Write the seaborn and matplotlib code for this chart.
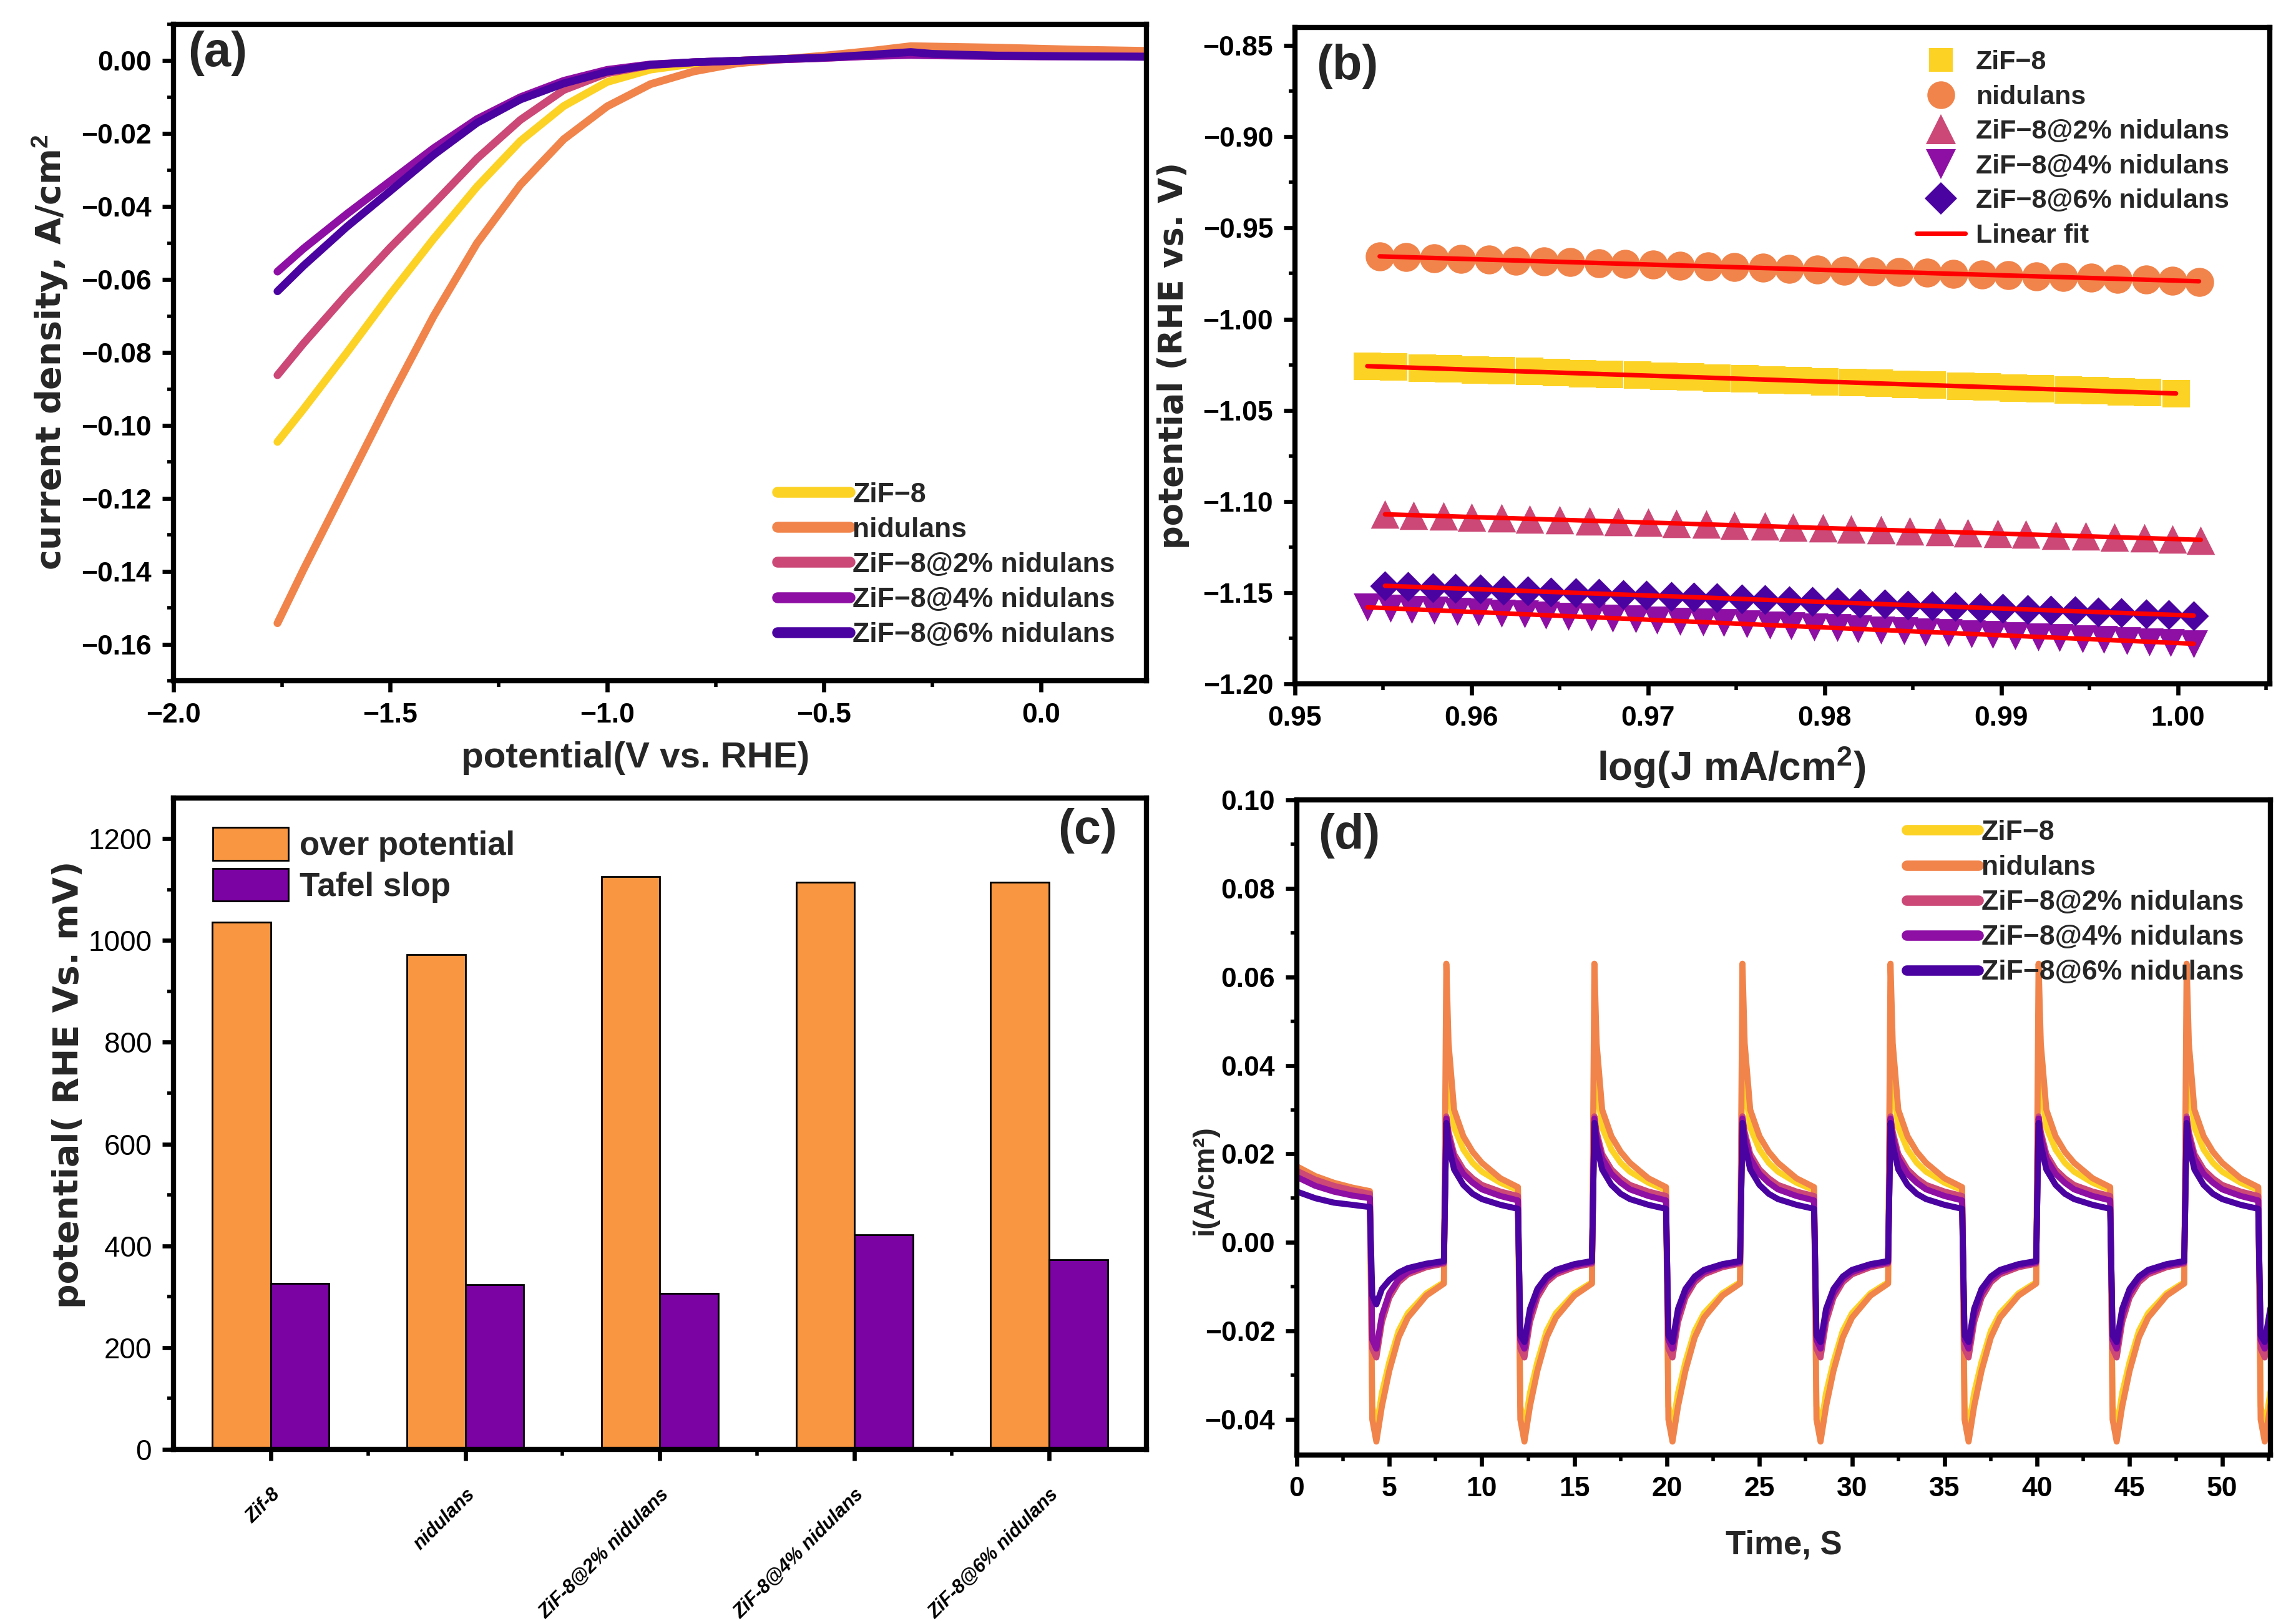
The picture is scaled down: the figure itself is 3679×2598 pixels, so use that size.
import numpy as np
import pandas as pd
import matplotlib
matplotlib.use("Agg")
import matplotlib.pyplot as plt
import seaborn as sns
from matplotlib.ticker import MultipleLocator, FixedLocator, FuncFormatter
from matplotlib.lines import Line2D
from matplotlib.patches import Patch

# ---------------- data ----------------
names = ["ZiF\u22128", "nidulans", "ZiF\u22128@2% nidulans",
         "ZiF\u22128@4% nidulans", "ZiF\u22128@6% nidulans"]
colors = ["#FCD225", "#F1844B", "#CB4877", "#8E0FA4", "#4A03A0"]

# (a) LSV
lsv_potential = [-1.76, -1.70, -1.60, -1.50, -1.40, -1.30, -1.20, -1.10, -1.00, -0.90, -0.80,
                 -0.70, -0.60, -0.50, -0.40, -0.30, -0.25, -0.10, 0.00, 0.10, 0.25]
lsv_zif8 = [-0.1045, -0.0955, -0.0800, -0.0640, -0.0488, -0.0345, -0.0220, -0.0124, -0.0058, -0.0024,
            -0.0008, 0.0000, 0.0005, 0.0010, 0.0017, 0.0022, 0.0021, 0.0019, 0.0018, 0.0017, 0.0016]
lsv_nid = [-0.1542, -0.1395, -0.1160, -0.0925, -0.0700, -0.0500, -0.0340, -0.0215, -0.0125, -0.0064,
           -0.0029, -0.0007, 0.0004, 0.0014, 0.0026, 0.0040, 0.0039, 0.0036, 0.0033, 0.0030, 0.0027]
lsv_2 = [-0.0862, -0.0775, -0.0640, -0.0512, -0.0392, -0.0268, -0.0162, -0.0080, -0.0034, -0.0012,
         -0.0004, 0.0000, 0.0004, 0.0008, 0.0014, 0.0018, 0.0017, 0.0015, 0.0014, 0.0013, 0.0012]
lsv_4 = [-0.0578, -0.0515, -0.0420, -0.0330, -0.0240, -0.0160, -0.0100, -0.0055, -0.0025, -0.0010,
         -0.0004, 0.0000, 0.0004, 0.0008, 0.0013, 0.0016, 0.0015, 0.0013, 0.0012, 0.0012, 0.0011]
lsv_6 = [-0.0632, -0.0562, -0.0455, -0.0357, -0.0258, -0.0170, -0.0106, -0.0062, -0.0030, -0.0011,
         -0.0004, 0.0000, 0.0005, 0.0009, 0.0016, 0.0024, 0.0019, 0.0014, 0.0013, 0.0012, 0.0011]

# (b) Tafel
taf_x_zif8 = [0.9541, 0.9556, 0.9572, 0.9587, 0.9602, 0.9617, 0.9633, 0.9648, 0.9663, 0.9678, 0.9694,
              0.9709, 0.9724, 0.9739, 0.9755, 0.9770, 0.9785, 0.9800, 0.9816, 0.9831, 0.9846, 0.9861,
              0.9877, 0.9892, 0.9907, 0.9922, 0.9938, 0.9953, 0.9968, 0.9983, 0.9999]
taf_y_zif8 = [-1.0258, -1.0262, -1.0268, -1.0272, -1.0278, -1.0283, -1.0287, -1.0293, -1.0298, -1.0302,
              -1.0307, -1.0313, -1.0318, -1.0322, -1.0327, -1.0333, -1.0338, -1.0342, -1.0347, -1.0352,
              -1.0357, -1.0362, -1.0367, -1.0372, -1.0377, -1.0382, -1.0387, -1.0392, -1.0397, -1.0402,
              -1.0410]
taf_x_nid = [0.9548, 0.9563, 0.9579, 0.9594, 0.9610, 0.9625, 0.9641, 0.9656, 0.9672, 0.9687, 0.9703,
             0.9718, 0.9734, 0.9749, 0.9765, 0.9780, 0.9796, 0.9811, 0.9827, 0.9842, 0.9858, 0.9873,
             0.9889, 0.9904, 0.9920, 0.9935, 0.9951, 0.9966, 0.9982, 0.9997, 1.0012]
taf_y_nid = [-0.9655, -0.9660, -0.9665, -0.9669, -0.9674, -0.9679, -0.9683, -0.9688, -0.9692, -0.9697,
             -0.9701, -0.9706, -0.9710, -0.9715, -0.9719, -0.9724, -0.9728, -0.9733, -0.9737, -0.9742,
             -0.9746, -0.9751, -0.9755, -0.9760, -0.9764, -0.9769, -0.9773, -0.9778, -0.9783, -0.9789,
             -0.9797]
taf_x_2 = [0.9551, 0.9567, 0.9584, 0.9600, 0.9617, 0.9633, 0.9650, 0.9667, 0.9683, 0.9700, 0.9716,
           0.9733, 0.9749, 0.9766, 0.9782, 0.9799, 0.9815, 0.9832, 0.9848, 0.9865, 0.9881, 0.9898,
           0.9914, 0.9931, 0.9948, 0.9964, 0.9981, 0.9997, 1.0013]
taf_y_2 = [-1.1070, -1.1075, -1.1080, -1.1085, -1.1090, -1.1095, -1.1100, -1.1105, -1.1110, -1.1115,
           -1.1120, -1.1125, -1.1130, -1.1135, -1.1140, -1.1145, -1.1150, -1.1155, -1.1160, -1.1165,
           -1.1170, -1.1175, -1.1180, -1.1185, -1.1190, -1.1195, -1.1200, -1.1205, -1.1212]
taf_x_4 = [0.9541, 0.9554, 0.9566, 0.9579, 0.9592, 0.9604, 0.9617, 0.9630, 0.9642, 0.9655, 0.9668,
           0.9680, 0.9693, 0.9705, 0.9718, 0.9731, 0.9743, 0.9756, 0.9769, 0.9781, 0.9794, 0.9807,
           0.9819, 0.9832, 0.9845, 0.9857, 0.9870, 0.9883, 0.9895, 0.9908, 0.9921, 0.9933, 0.9946,
           0.9958, 0.9971, 0.9984, 0.9996, 1.0009]
taf_y_4 = [-1.1580, -1.1585, -1.1591, -1.1596, -1.1602, -1.1607, -1.1612, -1.1618, -1.1623, -1.1629,
           -1.1634, -1.1639, -1.1645, -1.1650, -1.1656, -1.1661, -1.1666, -1.1672, -1.1677, -1.1683,
           -1.1688, -1.1693, -1.1699, -1.1704, -1.1710, -1.1715, -1.1720, -1.1726, -1.1731, -1.1737,
           -1.1742, -1.1747, -1.1753, -1.1758, -1.1764, -1.1769, -1.1774, -1.1780]
taf_x_6 = [0.9551, 0.9564, 0.9578, 0.9591, 0.9605, 0.9618, 0.9632, 0.9645, 0.9659, 0.9672, 0.9686,
           0.9699, 0.9713, 0.9726, 0.9739, 0.9753, 0.9766, 0.9780, 0.9793, 0.9807, 0.9820, 0.9834,
           0.9847, 0.9861, 0.9874, 0.9888, 0.9901, 0.9915, 0.9928, 0.9942, 0.9955, 0.9968, 0.9982,
           0.9995, 1.0009]
taf_y_6 = [-1.1462, -1.1467, -1.1472, -1.1476, -1.1481, -1.1486, -1.1491, -1.1496, -1.1500, -1.1505,
           -1.1510, -1.1515, -1.1520, -1.1524, -1.1529, -1.1534, -1.1539, -1.1544, -1.1548, -1.1553,
           -1.1558, -1.1563, -1.1568, -1.1572, -1.1577, -1.1582, -1.1587, -1.1592, -1.1596, -1.1601,
           -1.1606, -1.1611, -1.1616, -1.1620, -1.1626]

# (c) bars
bar_categories = ["Zif-8", "nidulans", "ZiF-8@2% nidulans", "ZiF-8@4% nidulans", "ZiF-8@6% nidulans"]
over_potential = [1036, 972, 1125, 1115, 1114]
tafel_slope = [326, 323, 307, 422, 372]

# (d) chronoamperometry: step times and per-series transient profiles
neg_step_times = [4, 12, 20, 28, 36, 44, 52]
pos_step_times = [8, 16, 24, 32, 40, 48]
first_offsets = [0.0, 1.0, 2.0, 3.0, 3.95]
pos_offsets = [0.08, 0.2, 0.5, 1.0, 1.5, 2.0, 3.0, 3.95]
neg_offsets = [0.08, 0.3, 0.6, 1.0, 1.5, 2.0, 3.0, 3.95]
ca_first = [[0.0165, 0.0145, 0.0131, 0.0121, 0.0113],
            [0.0172, 0.0150, 0.0135, 0.0124, 0.0116],
            [0.0162, 0.0142, 0.0128, 0.0118, 0.0110],
            [0.0148, 0.0128, 0.0115, 0.0106, 0.0100],
            [0.0115, 0.0100, 0.0090, 0.0085, 0.0080]]
ca_pos = [[0.046, 0.036, 0.026, 0.021, 0.018, 0.016, 0.0135, 0.0118],
          [0.063, 0.045, 0.030, 0.024, 0.0205, 0.018, 0.0145, 0.0125],
          [0.0285, 0.025, 0.020, 0.0165, 0.0145, 0.013, 0.0115, 0.0105],
          [0.028, 0.024, 0.019, 0.0155, 0.0135, 0.012, 0.0105, 0.0095],
          [0.027, 0.022, 0.0165, 0.013, 0.011, 0.0098, 0.0085, 0.0076]]
ca_neg = [[-0.037, -0.042, -0.034, -0.027, -0.020, -0.016, -0.0115, -0.0090],
          [-0.040, -0.045, -0.037, -0.029, -0.0215, -0.017, -0.0120, -0.0093],
          [-0.024, -0.026, -0.018, -0.0125, -0.009, -0.0072, -0.0056, -0.0048],
          [-0.022, -0.024, -0.0165, -0.0115, -0.0083, -0.0067, -0.0052, -0.0045],
          [-0.021, -0.0225, -0.015, -0.0105, -0.0077, -0.0062, -0.0049, -0.0042]]
ca_neg_first_6 = [-0.012, -0.014, -0.0105, -0.0085, -0.0068, -0.0058, -0.0048, -0.0042]

# ---------------- style ----------------
sns.set_theme(style="ticks")
FONT = ["Liberation Sans", "DejaVu Sans"]
WIDE = ["DejaVu Sans"]
plt.rcParams["font.family"] = FONT
plt.rcParams["font.weight"] = "bold"
plt.rcParams["axes.labelweight"] = "bold"
plt.rcParams["mathtext.fontset"] = "custom"
plt.rcParams["mathtext.rm"] = "Liberation Sans:bold"
plt.rcParams["mathtext.it"] = "Liberation Sans:bold"
plt.rcParams["mathtext.bf"] = "Liberation Sans:bold"
plt.rcParams["mathtext.default"] = "rm"


def minus_fmt(decimals):
    return FuncFormatter(lambda v, p: f"{v:.{decimals}f}".replace("-", "\u2212"))


def style_axis(ax, labelsize=16):
    ax.set_facecolor("white")
    for sp in ax.spines.values():
        sp.set_visible(True)
        sp.set_linewidth(3)
        sp.set_color("black")
    ax.tick_params(which="major", direction="out", length=6.5, width=2.4, labelsize=labelsize,
                   pad=6, colors="black", top=False, right=False)
    ax.tick_params(which="minor", direction="out", length=3.5, width=2.0,
                   colors="black", top=False, right=False)
    ax.grid(False)


def panel_label(ax, text, x, y, ha="left"):
    ax.text(x, y, text, transform=ax.transAxes, ha=ha, va="top",
            fontsize=28, fontweight="bold")


fig = plt.figure(figsize=(18.395, 12.99), dpi=200)
fig.patch.set_facecolor("white")
ax_a = fig.add_axes([0.0755, 0.5800, 0.4238, 0.4050])
ax_b = fig.add_axes([0.5640, 0.5781, 0.4245, 0.4050])
ax_c = fig.add_axes([0.0755, 0.1059, 0.4238, 0.4018])
ax_d = fig.add_axes([0.5648, 0.1025, 0.4240, 0.4040])

leg_font = dict(family=FONT, weight="bold", size=16)

# ---------------- (a) ----------------
lsv_series = [lsv_zif8, lsv_nid, lsv_2, lsv_4, lsv_6]
df_a = pd.DataFrame({
    "potential": np.concatenate([lsv_potential] * 5),
    "current": np.concatenate(lsv_series),
    "sample": np.repeat(names, len(lsv_potential)),
})
sns.lineplot(data=df_a, x="potential", y="current", hue="sample", hue_order=names,
             palette=dict(zip(names, colors)), estimator=None, sort=False,
             linewidth=4.5, ax=ax_a, legend=False)
ax_a.set_xlim(-2.0, 0.243)
ax_a.set_ylim(-0.17, 0.01)
ax_a.xaxis.set_major_locator(MultipleLocator(0.5))
ax_a.xaxis.set_minor_locator(MultipleLocator(0.25))
ax_a.yaxis.set_major_locator(MultipleLocator(0.02))
ax_a.yaxis.set_minor_locator(MultipleLocator(0.01))
ax_a.xaxis.set_major_formatter(minus_fmt(1))
ax_a.yaxis.set_major_formatter(minus_fmt(2))
style_axis(ax_a)
ax_a.set_xlabel("potential(V vs. RHE)", fontsize=21)
ax_a.xaxis.set_label_coords(0.475, -0.092)
ax_a.set_ylabel("current density, A/cm$^{2}$", fontsize=20, family=WIDE)
ax_a.yaxis.set_label_coords(-0.106, 0.5)
handles = [Line2D([], [], color=c, lw=6.3, solid_capstyle="round") for c in colors]
ax_a.legend(handles, names, loc="lower right", bbox_to_anchor=(0.985, 0.025), frameon=False,
            prop=leg_font, handlelength=2.6, handletextpad=0.1, labelspacing=0.34,
            borderaxespad=0.2)
panel_label(ax_a, "(a)", 0.015, 0.99)

# ---------------- (b) ----------------
taf = [(taf_x_zif8, taf_y_zif8, "s", 240),
       (taf_x_nid, taf_y_nid, "o", 280),
       (taf_x_2, taf_y_2, "^", 270),
       (taf_x_4, taf_y_4, "v", 260),
       (taf_x_6, taf_y_6, "D", 150)]
for (tx, ty, m, s), name, c in zip(taf, names, colors):
    sns.scatterplot(x=tx, y=ty, marker=m, s=s, color=c, linewidth=0, ax=ax_b,
                    label=name, zorder=2)
for i, (tx, ty, m, s) in enumerate(taf):
    sns.regplot(x=np.array(tx), y=np.array(ty), scatter=False, ci=None, color="#FF0000",
                line_kws=dict(lw=2.6, zorder=3), ax=ax_b,
                label="Linear fit" if i == 0 else None)
ax_b.set_xlim(0.95, 1.0052)
ax_b.set_ylim(-1.20, -0.84)
ax_b.xaxis.set_major_locator(MultipleLocator(0.01))
ax_b.xaxis.set_minor_locator(MultipleLocator(0.005))
ax_b.yaxis.set_major_locator(MultipleLocator(0.05))
ax_b.yaxis.set_minor_locator(MultipleLocator(0.025))
ax_b.xaxis.set_major_formatter(minus_fmt(2))
ax_b.yaxis.set_major_formatter(minus_fmt(2))
style_axis(ax_b)
ax_b.set_xlabel("log(J mA/cm$^{2}$)", fontsize=23)
ax_b.xaxis.set_label_coords(0.448, -0.092)
ax_b.set_ylabel("potential (RHE vs. V)", fontsize=19, family=WIDE)
ax_b.yaxis.set_label_coords(-0.108, 0.5)
hb = [Line2D([], [], ls="none", marker=m, markersize=ms, color=c, markeredgewidth=0)
      for (m, ms), c in zip([("s", 14), ("o", 16), ("^", 17), ("v", 17), ("D", 13)], colors)]
hb.append(Line2D([], [], color="#FF0000", lw=2.6))
ax_b.legend(hb, names + ["Linear fit"], loc="upper right", bbox_to_anchor=(0.975, 0.99),
            frameon=False, prop=dict(family=FONT, weight="bold", size=15.5),
            handlelength=1.8, handletextpad=0.4, labelspacing=0.36, borderaxespad=0.2)
panel_label(ax_b, "(b)", 0.022, 0.975)

# ---------------- (c) ----------------
df_c = pd.DataFrame({
    "category": bar_categories * 2,
    "value": over_potential + tafel_slope,
    "metric": ["over potential"] * 5 + ["Tafel slop"] * 5,
})
bar_colors = ["#F89641", "#7B02A3"]
sns.barplot(data=df_c, x="category", y="value", hue="metric",
            hue_order=["over potential", "Tafel slop"], palette=bar_colors, saturation=1,
            width=0.6, edgecolor="black", linewidth=1.0, ax=ax_c, legend=False)
ax_c.set_xlim(-0.5, 4.5)
ax_c.set_ylim(0, 1280)
ax_c.yaxis.set_major_locator(MultipleLocator(200))
ax_c.yaxis.set_minor_locator(MultipleLocator(100))
ax_c.xaxis.set_minor_locator(FixedLocator([0.5, 1.5, 2.5, 3.5]))
style_axis(ax_c)
ax_c.tick_params(axis="y", labelsize=16.5)
for t in ax_c.get_yticklabels():
    t.set_fontweight("normal")
ax_c.set_xticks(range(5))
ax_c.set_xticklabels(bar_categories, rotation=45, ha="right", rotation_mode="anchor",
                     fontsize=11, fontstyle="italic", fontweight="bold")
ax_c.tick_params(axis="x", pad=14)
ax_c.set_xlabel("")
ax_c.set_ylabel("potential( RHE Vs. mV)", fontsize=20, family=WIDE)
ax_c.yaxis.set_label_coords(-0.09, 0.56)
hc = [Patch(facecolor=c, edgecolor="black", lw=1.0) for c in bar_colors]
ax_c.legend(hc, ["over potential", "Tafel slop"], loc="upper left", bbox_to_anchor=(0.02, 0.985),
            frameon=False, prop=dict(family=FONT, weight="bold", size=19),
            handlelength=2.3, handleheight=1.15, handletextpad=0.35, labelspacing=0.2,
            borderaxespad=0.2)
panel_label(ax_c, "(c)", 0.97, 0.985, ha="right")

# ---------------- (d) ----------------
rows = []
for k, name in enumerate(names):
    for o, v in zip(first_offsets, ca_first[k]):
        rows.append((o, v, name))
    for j, t0 in enumerate(neg_step_times):
        vals = ca_neg_first_6 if (k == 4 and j == 0) else ca_neg[k]
        for o, v in zip(neg_offsets, vals):
            rows.append((t0 + o, v, name))
        if j < len(pos_step_times):
            t1 = pos_step_times[j]
            for o, v in zip(pos_offsets, ca_pos[k]):
                rows.append((t1 + o, v, name))
df_d = pd.DataFrame(rows, columns=["time", "i", "sample"])
sns.lineplot(data=df_d, x="time", y="i", hue="sample", hue_order=names,
             palette=dict(zip(names, colors)), estimator=None, sort=False,
             linewidth=3.5, ax=ax_d, legend=False)
ax_d.set_xlim(0, 52.6)
ax_d.set_ylim(-0.048, 0.10)
ax_d.xaxis.set_major_locator(MultipleLocator(5))
ax_d.xaxis.set_minor_locator(MultipleLocator(2.5))
ax_d.yaxis.set_major_locator(MultipleLocator(0.02))
ax_d.yaxis.set_minor_locator(MultipleLocator(0.01))
ax_d.xaxis.set_major_formatter(minus_fmt(0))
ax_d.yaxis.set_major_formatter(minus_fmt(2))
style_axis(ax_d)
ax_d.set_xlabel("Time, S", fontsize=19, labelpad=16)
ax_d.set_ylabel("i(A/cm\u00b2)", fontsize=17)
ax_d.yaxis.set_label_coords(-0.080, 0.42)
hd = [Line2D([], [], color=c, lw=6.0, solid_capstyle="round") for c in colors]
ax_d.legend(hd, names, loc="upper right", bbox_to_anchor=(0.99, 0.995), frameon=False,
            prop=leg_font, handlelength=2.6, handletextpad=0.1, labelspacing=0.34,
            borderaxespad=0.2)
panel_label(ax_d, "(d)", 0.022, 0.98)

fig.savefig("out.png", dpi=200, facecolor="white")
